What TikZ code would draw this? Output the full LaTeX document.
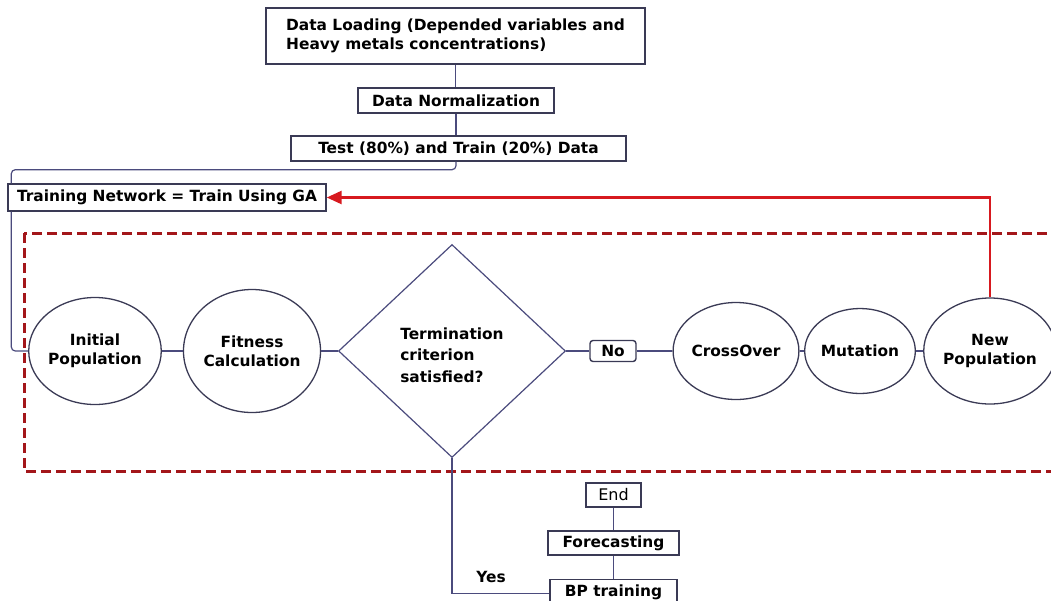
\documentclass[tikz,border=0pt]{standalone}
\usepackage{fontspec}
\setmainfont{DejaVu Sans}
\usetikzlibrary{shapes.geometric,arrows.meta}
\definecolor{navy}{HTML}{4B4B7D}
\definecolor{boxline}{HTML}{3A3A55}
\definecolor{maroon}{HTML}{A3161A}
\definecolor{redarr}{HTML}{D7191F}
\tikzset{
  lbl/.style={font=\fontsize{15.4}{19}\selectfont\bfseries, text=black},
  boxn/.style={draw=boxline, line width=1.4pt, inner sep=0pt, lbl},
  circn/.style={draw=boxline, line width=1.3pt, ellipse, inner sep=0pt, lbl, align=center},
  conn/.style={draw=navy, line width=1.2pt},
  redline/.style={draw=redarr, line width=2.6pt, -{Triangle[length=15pt,width=13pt]}},
  dashbox/.style={draw=maroon, line width=3pt, dash pattern=on 10pt off 5pt}
}
\begin{document}
\begin{tikzpicture}[x=1pt,y=-1pt]
\useasboundingbox (0,0) rectangle (1051,600);
\clip (0,0) rectangle (1051,600);
% dashed region
\draw[dashbox] (24,233) rectangle (1070,471);
% boxes
\node[boxn, minimum width=379pt, minimum height=56pt, align=left] (load) at (455.5,36)
  {Data Loading (Depended variables and\\Heavy metals concentrations)};
\node[boxn, minimum width=196pt, minimum height=25pt] (norm) at (456,100.5) {Data Normalization};
\node[boxn, minimum width=335pt, minimum height=25pt] (test) at (458.5,148.5) {Test (80\%) and Train (20\%) Data};
\node[boxn, minimum width=318pt, minimum height=27pt] (train) at (167,197.5) {Training Network = Train Using GA};
% GA loop
\node[circn, minimum width=116pt, minimum height=107pt] (init) at (95,351) {Initial\\Population};
\node[circn, minimum width=130pt, minimum height=123pt] (fit) at (252,351) {Fitness\\Calculation};
\node[draw=navy, line width=1.2pt, diamond, minimum width=227pt, minimum height=213pt, inner sep=0pt] (term) at (452,351) {};
\node[lbl, align=left, font=\fontsize{15.4}{21.5}\selectfont\bfseries] (termtxt) at (452,355) {Termination\\criterion\\satisfied?};
\node[boxn, rounded corners=3pt, minimum width=46pt, minimum height=21pt] (no) at (613,351) {No};
\node[circn, minimum width=102pt, minimum height=97pt] (cross) at (736,351) {CrossOver};
\node[circn, minimum width=91pt, minimum height=85pt] (mut) at (860,351) {Mutation};
\node[circn, minimum width=115pt, minimum height=106pt] (newp) at (990,351) {New\\Population};
% bottom
\node[boxn, minimum width=55pt, minimum height=24pt, font=\fontsize{16}{19}\selectfont] (end) at (613.5,495) {End};
\node[boxn, minimum width=131pt, minimum height=24pt] (fore) at (613.5,543) {Forecasting};
\node[boxn, minimum width=127pt, minimum height=26pt, anchor=north] (bp) at (613.5,579) {BP training};
\node[lbl] (yes) at (491,577) {Yes};
% connectors
\draw[conn] (load.south) -- (load.south |- norm.north);
\draw[conn] (norm.south) -- (norm.south |- test.north);
\draw[conn, rounded corners=4pt] (norm.south |- test.south) -- ++(0,8) -| ([xshift=4pt]train.north west);
\draw[conn, rounded corners=4pt] ([xshift=4pt]train.south west) |- (init.west);
\draw[conn] (fit.west) -- (init.east);
\draw[conn] (fit.east) -- (term.west);
\draw[conn] (term.east) -- (no.west);
\draw[conn] (no.east) -- (cross.west);
\draw[conn] (cross.east) -- (mut.west);
\draw[conn] (mut.east) -- (newp.west);
\draw[conn] (term.south) |- ([yshift=-1pt]bp.west);
\draw[conn] (end.south) -- (fore.north);
\draw[conn] (fore.south) -- (bp.north);
\draw[redline] (newp.north) |- (train.east);
\end{tikzpicture}
\end{document}
